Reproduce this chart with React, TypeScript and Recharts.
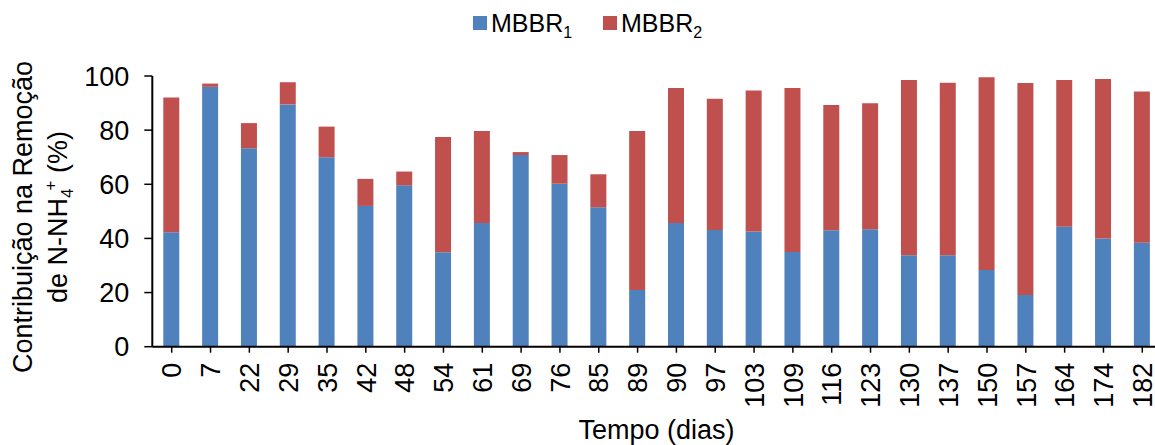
import React from 'react';
import { BarChart, Bar, XAxis, YAxis, Legend, Label } from 'recharts';

const days = ['0', '7', '22', '29', '35', '42', '48', '54', '61', '69', '76', '85', '89', '90', '97', '103', '109', '116', '123', '130', '137', '150', '157', '164', '174', '182'];
const mbbr1 = [42.3, 96.0, 73.3, 89.5, 70.0, 52.0, 59.6, 34.9, 45.7, 70.8, 60.2, 51.5, 20.9, 45.7, 43.1, 42.6, 35.0, 43.0, 43.4, 33.8, 33.8, 28.3, 19.1, 44.3, 40.0, 38.4];
const mbbr2 = [49.8, 1.2, 9.3, 8.2, 11.3, 10.0, 5.1, 42.6, 34.0, 1.1, 10.6, 12.2, 58.8, 49.9, 48.5, 52.0, 60.6, 46.3, 46.5, 64.7, 63.7, 71.2, 78.3, 54.2, 58.9, 55.9];
const yTicks = [0, 20, 40, 60, 80, 100];

const data = days.map((d, i) => ({ day: d, m1: mbbr1[i], m2: mbbr2[i] }));

const FONT = '"Liberation Sans", Arial, sans-serif';
const BLUE = '#4F81BD';
const RED = '#C0504D';

const XTick = (props: any) => {
  const { x, y, payload } = props;
  return (
    <text x={x} y={y} transform={`rotate(-90 ${x} ${y})`} textAnchor="end" dy="0.36em" fontSize={27} fontFamily={FONT} fill="#000">
      {payload.value}
    </text>
  );
};

const YLabel = () => (
  <g fontFamily={FONT} fill="#000">
    <text x={31.7} y={217} transform="rotate(-90 31.7 217)" textAnchor="middle" fontSize={27}>
      Contribuição na Remoção
    </text>
    <text x={66.7} y={217} transform="rotate(-90 66.7 217)" textAnchor="middle" fontSize={27}>
      de N-NH<tspan fontSize={17} dy={6}>4</tspan>
      <tspan fontSize={17} dx={-2} dy={-17}>+</tspan>
      <tspan dy={11}> (%)</tspan>
    </text>
  </g>
);

const XTitle = () => (
  <text x={656.5} y={439} textAnchor="middle" fontSize={27} fontFamily={FONT} fill="#000">
    Tempo (dias)
  </text>
);

const LegendContent = () => (
  <div style={{ position: 'relative', width: 1170, height: 45, fontFamily: FONT, color: '#000' }}>
    <div style={{ position: 'absolute', left: 473, top: 16, width: 14, height: 14, background: BLUE }} />
    <div style={{ position: 'absolute', left: 491, top: 10, fontSize: 25, lineHeight: '26px', whiteSpace: 'nowrap' }}>
      MBBR<span style={{ fontSize: 16, position: 'relative', top: 6 }}>1</span>
    </div>
    <div style={{ position: 'absolute', left: 603, top: 16, width: 14, height: 14, background: RED }} />
    <div style={{ position: 'absolute', left: 621, top: 10, fontSize: 25, lineHeight: '26px', whiteSpace: 'nowrap' }}>
      MBBR<span style={{ fontSize: 16, position: 'relative', top: 6 }}>2</span>
    </div>
  </div>
);

export default function App() {
  return (
    <div style={{ position: 'absolute', left: 0, top: 0, width: 1155, height: 445, overflow: 'hidden', background: '#fff' }}>
      <BarChart
        width={1170}
        height={445}
        data={data}
        margin={{ top: 76, right: 8.3, left: 72.3, bottom: 38.3 }}
      >
        <Legend
          layout="vertical"
          align="center"
          verticalAlign="middle"
          content={<LegendContent />}
          wrapperStyle={{ left: 0, top: 0, width: 1170, height: 45 }}
        />
        <XAxis
          dataKey="day"
          height={60}
          interval={0}
          tick={<XTick />}
          tickSize={6}
          tickMargin={10}
          axisLine={{ stroke: '#000', strokeWidth: 2 }}
          tickLine={{ stroke: '#000', strokeWidth: 1.5 }}
        >
          <Label content={<XTitle />} />
        </XAxis>
        <YAxis
          width={80}
          domain={[0, 100]}
          ticks={yTicks}
          interval={0}
          tickSize={8}
          tickMargin={15}
          tick={{ fontSize: 27, fontFamily: FONT, fill: '#000' }}
          axisLine={{ stroke: '#000', strokeWidth: 2 }}
          tickLine={{ stroke: '#000', strokeWidth: 1.5 }}
        >
          <Label content={<YLabel />} />
        </YAxis>
        <Bar dataKey="m1" name="MBBR1" stackId="a" fill={BLUE} barSize={16} isAnimationActive={false} />
        <Bar dataKey="m2" name="MBBR2" stackId="a" fill={RED} barSize={16} isAnimationActive={false} />
      </BarChart>
    </div>
  );
}
